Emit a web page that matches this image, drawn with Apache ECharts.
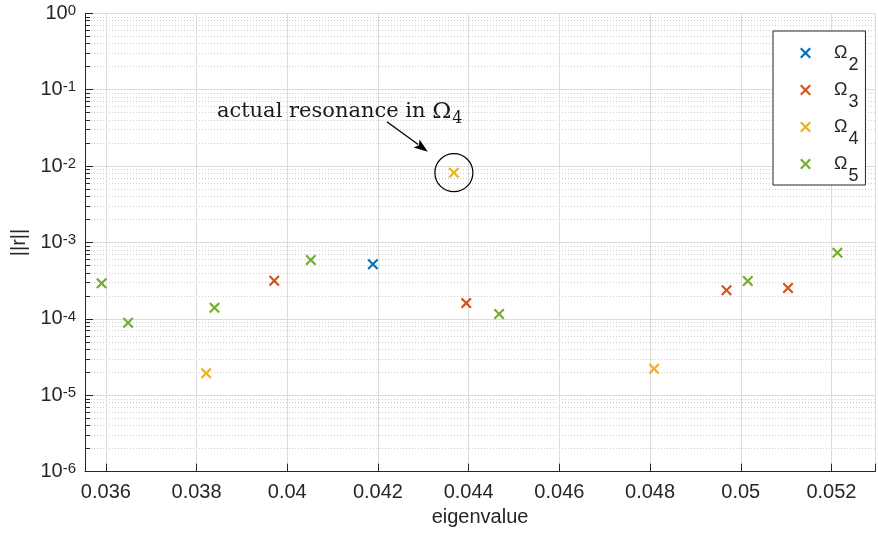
<!DOCTYPE html>
<html><head><meta charset="utf-8">
<script src="https://cdn.jsdelivr.net/npm/echarts@6/dist/echarts.min.js"></script>
<style>html,body{margin:0;padding:0;background:#fff}#c{width:878px;height:542px}</style>
</head><body><div id="c"></div>
<script>
// ---- data ----
const seriesNames = ['Ω2', 'Ω3', 'Ω4', 'Ω5'];
const omega2X = [0.041888];
const omega2Y = [5.19e-4];
const omega3X = [0.039713, 0.043946, 0.049686, 0.051042];
const omega3Y = [3.16e-4, 1.61e-4, 2.37e-4, 2.54e-4];
const omega4X = [0.038212, 0.043674, 0.048089];
const omega4Y = [1.94e-5, 8.20e-3, 2.23e-5];
const omega5X = [0.035906, 0.036490, 0.038395, 0.040519, 0.044671, 0.050154, 0.052131];
const omega5Y = [2.92e-4, 8.9e-5, 1.40e-4, 5.90e-4, 1.16e-4, 3.13e-4, 7.35e-4];
const annotatedPoint = [0.043674, 8.20e-3];
const annotationText = 'actual resonance in ';
const xRange = [0.03554, 0.05296];
const yRange = [1e-6, 1];

// ---- style ----
const colors = ['#0072BD', '#D95319', '#EDB120', '#77AC30'];
const textColor = '#262626';
const sans = "'Liberation Sans', Arial, Helvetica, sans-serif";
const crossPath = 'path://M0,1.4L1.4,0L5,3.6L8.6,0L10,1.4L6.4,5L10,8.6L8.6,10L5,6.4L1.4,10L0,8.6L3.6,5Z';

function zip(xs, ys) { return xs.map((x, i) => [x, ys[i]]); }
const seriesData = [zip(omega2X, omega2Y), zip(omega3X, omega3Y), zip(omega4X, omega4Y), zip(omega5X, omega5Y)];

const chart = echarts.init(document.getElementById('c'), null, { renderer: 'canvas' });

const option = {
  animation: false,
  backgroundColor: '#fff',
  grid: { left: 85, top: 13.3, right: 0, bottom: 70.3, containLabel: false },
  xAxis: {
    type: 'value',
    min: xRange[0], max: xRange[1],
    splitNumber: 9,
    name: 'eigenvalue',
    nameLocation: 'middle',
    nameGap: 36,
    nameTextStyle: { color: textColor, fontFamily: sans, fontSize: 20 },
    axisLine: { show: true, onZero: false, lineStyle: { color: textColor, width: 1 } },
    axisTick: { show: true, inside: true, length: 8, lineStyle: { color: textColor } },
    axisLabel: {
      color: textColor, fontFamily: sans, fontSize: 20, margin: 11,
      formatter: function (v) {
        const k = v / 0.002;
        if (Math.abs(k - Math.round(k)) > 1e-6) return '';
        return String(parseFloat(v.toFixed(3)));
      }
    },
    splitLine: { show: true, lineStyle: { color: '#dcdcdc', width: 1 } }
  },
  yAxis: {
    type: 'log',
    logBase: 10,
    min: yRange[0], max: yRange[1],
    interval: 1,
    name: '||r||',
    nameLocation: 'middle',
    nameGap: 52,
    nameTextStyle: { color: textColor, fontFamily: sans, fontSize: 20 },
    axisLine: { show: true, lineStyle: { color: textColor, width: 1 } },
    axisTick: { show: true, inside: true, length: 8, lineStyle: { color: textColor } },
    minorTick: { show: true, splitNumber: 9, length: 5, lineStyle: { color: textColor } },
    minorSplitLine: { show: true, lineStyle: { color: '#cdcdcd', width: 1, type: [1, 2] } },
    splitLine: { show: true, lineStyle: { color: '#dcdcdc', width: 1 } },
    axisLabel: {
      margin: 9,
      formatter: function (v) {
        const e = Math.round(Math.log10(v));
        return '{b|10}{e|' + e + '}';
      },
      rich: {
        b: { color: textColor, fontFamily: sans, fontSize: 20, lineHeight: 20, verticalAlign: 'bottom' },
        e: { color: textColor, fontFamily: sans, fontSize: 15, lineHeight: 15, padding: [0, 0, 10, 0], verticalAlign: 'top' }
      }
    }
  },
  legend: {
    orient: 'vertical',
    left: 773, top: 31,
    padding: [12, 7, 0, 27],
    itemGap: 6,
    itemWidth: 11, itemHeight: 11,
    backgroundColor: '#fff',
    borderColor: textColor, borderWidth: 1, borderRadius: 0,
    icon: crossPath,
    data: seriesNames,
    formatter: function (name) { return '{a|Ω}{s|' + name.slice(1) + '}'; },
    textStyle: {
      rich: {
        a: { color: textColor, fontFamily: sans, fontSize: 18, lineHeight: 20, padding: [1, 0, 0, 18], verticalAlign: 'top' },
        s: { color: textColor, fontFamily: sans, fontSize: 18, lineHeight: 16, padding: [13, 0, 0, 1], verticalAlign: 'top' }
      }
    }
  },
  series: seriesNames.map((n, i) => ({
    name: n,
    type: 'scatter',
    symbol: crossPath,
    symbolSize: 11,
    itemStyle: { color: colors[i], opacity: 1 },
    emphasis: { disabled: true },
    data: seriesData[i],
    z: 5
  }))
};
chart.setOption(option);

// annotation anchored on the data point
const p = chart.convertToPixel({ gridIndex: 0 }, annotatedPoint);
const tail = [p[0] - 67, p[1] - 51];
const tip = [p[0] - 26, p[1] - 21];
const dx = tip[0] - tail[0], dy = tip[1] - tail[1];
const L = Math.sqrt(dx * dx + dy * dy), ux = dx / L, uy = dy / L;
const headLen = 14, headHalf = 5;
const base = [tip[0] - ux * headLen, tip[1] - uy * headLen];
const serif = "'DejaVu Serif', 'Liberation Serif', serif";
chart.setOption({
  graphic: [
    { type: 'circle', shape: { cx: p[0], cy: p[1], r: 19 }, style: { fill: 'none', stroke: '#000', lineWidth: 1.2 }, z: 10, silent: true },
    { type: 'line', shape: { x1: tail[0], y1: tail[1], x2: base[0] + ux * 2, y2: base[1] + uy * 2 }, style: { stroke: '#000', lineWidth: 1.3 }, z: 10, silent: true },
    { type: 'polygon', shape: { points: [tip, [base[0] - uy * headHalf, base[1] + ux * headHalf], [base[0] + ux * 3, base[1] + uy * 3], [base[0] + uy * headHalf, base[1] - ux * headHalf]] }, style: { fill: '#000' }, z: 10, silent: true },
    {
      type: 'text', x: p[0] - 237, y: p[1] - 61, z: 10, silent: true,
      style: {
        text: '{t|' + annotationText + '}{o|Ω}{s|4}',
        verticalAlign: 'middle', align: 'left',
        rich: {
          t: { fontFamily: serif, fontSize: 21, fill: '#1a1a1a', lineHeight: 22, verticalAlign: 'top' },
          o: { fontFamily: serif, fontSize: 23, fill: '#1a1a1a', lineHeight: 22, verticalAlign: 'top' },
          s: { fontFamily: serif, fontSize: 16, fill: '#1a1a1a', lineHeight: 16, padding: [10, 0, 0, 1], verticalAlign: 'top' }
        }
      }
    }
  ]
});
</script>
</body></html>
